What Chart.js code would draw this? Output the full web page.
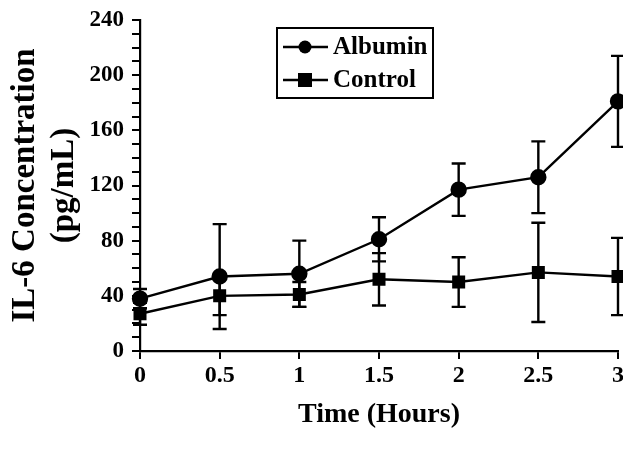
<!DOCTYPE html>
<html>
<head>
<meta charset="utf-8">
<script src="https://cdn.jsdelivr.net/npm/chart.js@4.4.1/dist/chart.umd.min.js"></script>
<style>
  html, body { margin: 0; padding: 0; background: #ffffff; }
  #wrap { width: 623px; height: 451px; position: relative; }
</style>
</head>
<body>
<div id="wrap"><canvas id="c" width="623" height="451"></canvas></div>
<script>
// ---- data ----
const times = [0, 0.5, 1, 1.5, 2, 2.5, 3];
const albumin = [38, 54, 56, 81, 117, 126, 181];
const albuminErr = [7, 38, 24, 16, 19, 26, 33];
const control = [27, 40, 41, 52, 50, 57, 54];
const controlErr = [8, 14, 9, 19, 18, 36, 28];
const seriesNames = ['Albumin', 'Control'];
const xTitle = 'Time (Hours)';
const yTitle = ['IL-6 Concentration', '(pg/mL)'];

const FONT = '"Liberation Serif", "Times New Roman", serif';

function pts(ys) { return times.map((t, i) => ({ x: t, y: ys[i] })); }

const errorBars = {
  id: 'errorBars',
  afterDatasetsDraw(chart) {
    const ctx = chart.ctx;
    const ys = chart.scales.y;
    chart.data.datasets.forEach((ds, di) => {
      const meta = chart.getDatasetMeta(di);
      ctx.save();
      ctx.strokeStyle = '#000';
      ctx.lineWidth = 2.4;
      meta.data.forEach((el, i) => {
        const v = ds.data[i].y, e = ds.err[i];
        const x = el.x;
        const yt = ys.getPixelForValue(v + e);
        const yb = ys.getPixelForValue(v - e);
        ctx.beginPath();
        ctx.moveTo(x, yt); ctx.lineTo(x, yb);
        ctx.moveTo(x - 7, yt); ctx.lineTo(x + 7, yt);
        ctx.moveTo(x - 7, yb); ctx.lineTo(x + 7, yb);
        ctx.stroke();
      });
      ctx.restore();
    });
  }
};

const boxLegend = {
  id: 'boxLegend',
  afterDraw(chart) {
    const ctx = chart.ctx;
    const x0 = 277, y0 = 28, w = 156, h = 70;
    ctx.save();
    ctx.strokeStyle = '#000';
    ctx.lineWidth = 2;
    ctx.strokeRect(x0, y0, w, h);
    ctx.font = 'bold 25px ' + FONT;
    ctx.textBaseline = 'middle';
    ctx.fillStyle = '#000';
    chart.data.datasets.forEach((ds, i) => {
      const cy = y0 + 19 + i * 33;
      ctx.beginPath();
      ctx.lineWidth = 2.4;
      ctx.moveTo(x0 + 6, cy); ctx.lineTo(x0 + 51, cy);
      ctx.stroke();
      if (ds.pointStyle === 'circle') {
        ctx.beginPath(); ctx.arc(x0 + 28, cy, 6.5, 0, Math.PI * 2); ctx.fill();
      } else {
        ctx.fillRect(x0 + 21, cy - 7, 14, 14);
      }
      ctx.fillText(ds.label, x0 + 56, cy + 1);
    });
    ctx.restore();
  }
};

new Chart(document.getElementById('c'), {
  type: 'line',
  data: {
    datasets: [
      { label: seriesNames[0], data: pts(albumin), err: albuminErr, borderColor: '#000', backgroundColor: '#000',
        borderWidth: 2.4, pointStyle: 'circle', pointRadius: 7, pointBackgroundColor: '#000', pointBorderColor: '#000', clip: false },
      { label: seriesNames[1], data: pts(control), err: controlErr, borderColor: '#000', backgroundColor: '#000',
        borderWidth: 2.4, pointStyle: 'rect', pointRadius: 7.5, pointBackgroundColor: '#000', pointBorderColor: '#000', clip: false }
    ]
  },
  options: {
    responsive: false,
    animation: false,
    devicePixelRatio: 1,
    layout: { autoPadding: false, padding: { top: 20, right: 5, bottom: 0, left: 0 } },
    plugins: { legend: { display: false }, tooltip: { enabled: false } },
    scales: {
      x: {
        type: 'linear', min: 0, max: 3,
        afterFit(s) { s.height = 100; s.paddingRight = 0; s.paddingLeft = 0; },
        ticks: { stepSize: 0.5, color: '#000', font: { family: FONT, size: 24, weight: 'bold' }, padding: 2, maxRotation: 0,
                 callback: v => String(v) },
        grid: { drawOnChartArea: false, color: '#000', lineWidth: 2, tickLength: 8 },
        border: { color: '#000', width: 2.2 },
        title: { display: true, text: xTitle, color: '#000', font: { family: FONT, size: 28, weight: 'bold', lineHeight: 1.1 }, padding: { top: 0, bottom: 21 } }
      },
      y: {
        min: 0, max: 240,
        afterFit(s) { s.width = 140; s.paddingTop = 0; s.paddingBottom = 0; },
        ticks: { stepSize: 10, autoSkip: false, color: '#000', font: { family: FONT, size: 23, weight: 'bold' }, padding: 8,
                 callback: v => (v % 40 === 0 ? String(v) : '') },
        grid: { drawOnChartArea: false, color: '#000', lineWidth: 2, tickLength: 8 },
        border: { color: '#000', width: 2.2 },
        title: { display: true, text: yTitle, color: '#000', font: { family: FONT, size: 33, weight: 'bold', lineHeight: 1.18 }, padding: { top: 6, bottom: 0 } }
      }
    }
  },
  plugins: [errorBars, boxLegend]
});
</script>
</body>
</html>
